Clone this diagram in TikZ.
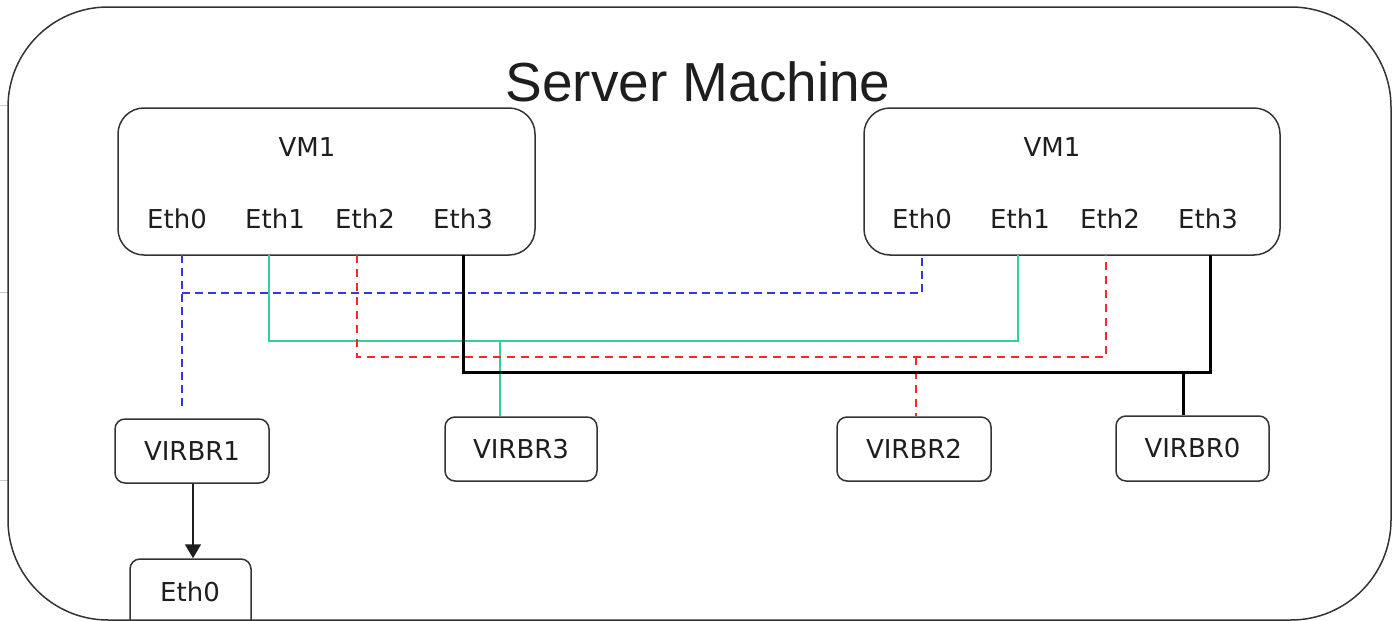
\documentclass[tikz,border=0pt]{standalone}
\usepackage{fontspec}
\setmainfont{DejaVu Sans}
\newfontfamily\titlefont{Liberation Sans}
\usetikzlibrary{arrows.meta}
\definecolor{edge}{RGB}{51,51,51}
\definecolor{ink}{RGB}{30,30,30}
\definecolor{lanblue}{RGB}{55,55,225}
\definecolor{langreen}{RGB}{45,208,158}
\definecolor{lanred}{RGB}{250,40,40}
\definecolor{tick}{RGB}{200,200,200}
\tikzset{
  box/.style={draw=edge, line width=1.5pt, rounded corners=#1, inner sep=0pt, text=ink},
  box/.default=10pt,
  lbl/.style={inner sep=0pt, text=ink, font=\fontsize{26}{30}\selectfont},
  bluelink/.style={draw=lanblue, line width=1.4pt, dash pattern=on 8pt off 5pt},
  greenlink/.style={draw=langreen, line width=1.6pt},
  redlink/.style={draw=lanred, line width=1.4pt, dash pattern=on 8pt off 6pt},
  blacklink/.style={draw=black, line width=3pt},
}
\begin{document}
\begin{tikzpicture}[x=1pt, y=-1pt]
\useasboundingbox (0,0) rectangle (1393,621);

% faint guide ticks at the left edge
\foreach \yy in {105,292,480} \draw[tick, line width=1pt] (0,\yy) -- (8,\yy);

% host frame
\node[box=100pt, minimum width=1383pt, minimum height=613pt] (server) at (699.5,313.5) {};
\node[inner sep=0pt, text=ink, font=\titlefont\fontsize{55}{60}\selectfont] (title) at (698,82) {Server Machine};

% the two virtual machines
\node[box=26pt, minimum width=417pt, minimum height=147pt] (vmL) at (326.5,181.5) {};
\node[box=26pt, minimum width=416pt, minimum height=147pt] (vmR) at (1072,181.5) {};
\node[lbl] (vmLname) at (307,147) {VM1};
\node[lbl] (vmRname) at (1052,147) {VM1};

\node[lbl] (l0) at (177,219) {Eth0};
\node[lbl] (l1) at (275,219) {Eth1};
\node[lbl] (l2) at (365,219) {Eth2};
\node[lbl] (l3) at (463,219) {Eth3};
\node[lbl] (r0) at (922,219) {Eth0};
\node[lbl] (r1) at (1020,219) {Eth1};
\node[lbl] (r2) at (1110,219) {Eth2};
\node[lbl] (r3) at (1208,219) {Eth3};

% bridges
\node[box, minimum width=154pt, minimum height=64pt, font=\fontsize{26}{30}\selectfont] (virbr1) at (192,451) {VIRBR1};
\node[box, minimum width=152pt, minimum height=64pt, font=\fontsize{26}{30}\selectfont] (virbr3) at (521,449) {VIRBR3};
\node[box, minimum width=154pt, minimum height=64pt, font=\fontsize{26}{30}\selectfont] (virbr2) at (914,449) {VIRBR2};
\node[box, minimum width=153pt, minimum height=65pt, font=\fontsize{26}{30}\selectfont] (virbr0) at (1192.5,448.5) {VIRBR0};
\node[box, minimum width=121pt, minimum height=80pt] (phys) at (190.5,599) {};
\node[lbl] (physname) at (190,592) {Eth0};

% interface attachment points on the VM edges
\coordinate (pl0) at (182,255);
\coordinate (pl1) at (269,255);
\coordinate (pl2) at (357,255);
\coordinate (pl3) at (463,255);
\coordinate (pr0) at (922,255);
\coordinate (pr1) at (1018,255);
\coordinate (pr2) at (1106,255);
\coordinate (pr3) at (1210,255);
\coordinate (blueend) at (182,410);

% Eth0 network (blue, dashed)
\draw[bluelink] (pl0) -- (blueend);
\draw[bluelink] (pl0 |- 0,293) -- (pr0 |- 0,293) -- (pr0);

% Eth1 network (green)
\draw[greenlink] (pl1) -- (pl1 |- 0,341) -- (pr1 |- 0,341) -- (pr1);
\draw[greenlink] (virbr3.north -| 500,0) -- (500,341);

% Eth2 network (red, dashed)
\draw[redlink] (pl2) -- (pl2 |- 0,357) -- (pr2 |- 0,357) -- (pr2);
\draw[redlink] (916,357) -- (virbr2.north -| 916,0);

% Eth3 network (black, thick)
\draw[blacklink, line join=miter] (pl3) -- (pl3 |- 0,372) -- (pr3 |- 0,372) -- (pr3);
\draw[blacklink] (1183,372) -- (virbr0.north -| 1183,0);

% uplink to the physical interface
\draw[line width=1.5pt, draw=ink, -{Triangle[width=16pt,length=14pt]}] (virbr1.south -| 193,0) -- (phys.north -| 193,0);
\end{tikzpicture}
\end{document}
